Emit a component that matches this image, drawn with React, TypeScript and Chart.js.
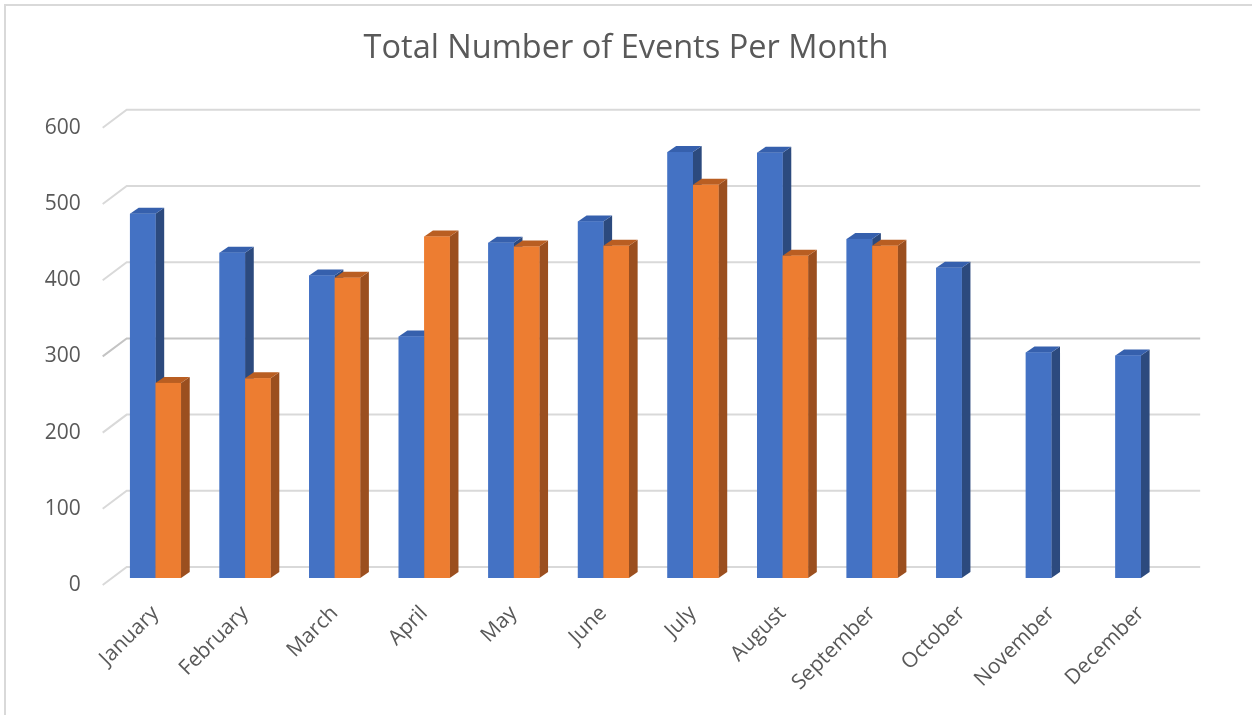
import React, { useEffect, useRef } from "react";
import { Chart, registerables } from "chart.js";

Chart.register(...registerables);

const months = [
  "January", "February", "March", "April", "May", "June",
  "July", "August", "September", "October", "November", "December",
];
const seriesBlue = [478, 427, 397, 317, 440, 468, 559, 558, 445, 407, 296, 292];
const seriesOrange = [256, 262, 394, 448, 435, 436, 516, 423, 436, null, null, null];
const yTicks = [0, 100, 200, 300, 400, 500, 600];
const titleText = "Total Number of Events Per Month";

const FONT = "'Open Sans', 'Noto Sans', sans-serif";
const TEXT = "#595959";
const GRID = "#d9d9d9";

const faces = [
  { front: "#4472c4", top: "#3660ad", side: "#2c4a7e" },
  { front: "#ed7d31", top: "#b95e22", side: "#9b4f1f" },
];

// depth offsets (oblique projection)
const BAR_DX = 8.7;
const BAR_DY = 6;

const pseudo3d = {
  id: "pseudo3d",
  beforeDraw(chart: any) {
    const ctx = chart.ctx;
    ctx.save();
    ctx.strokeStyle = GRID;
    ctx.lineWidth = 2;
    ctx.beginPath();
    ctx.moveTo(5, chart.height);
    ctx.lineTo(5, 5);
    ctx.lineTo(chart.width, 5);
    ctx.stroke();
    ctx.restore();
  },
  beforeDatasetsDraw(chart: any) {
    const ctx = chart.ctx;
    const { left, right } = chart.chartArea;
    const ys = chart.scales.y;
    ctx.save();
    ctx.lineWidth = 2;
    for (const v of yTicks) {
      const y = ys.getPixelForValue(v);
      ctx.strokeStyle = v === 300 ? "#c4c4c4" : GRID;
      ctx.beginPath();
      ctx.moveTo(left - 8, y + 7);
      ctx.lineTo(left + 16, y - 11);
      ctx.lineTo(right + 14.5, y - 11);
      ctx.stroke();
    }
    ctx.restore();
  },
  afterDatasetsDraw(chart: any) {
    const ctx = chart.ctx;
    ctx.save();
    const n = chart.data.labels.length;
    for (let i = 0; i < n; i++) {
      for (let d = 0; d < chart.data.datasets.length; d++) {
        const val = chart.data.datasets[d].data[i];
        if (val === null || val === undefined) continue;
        const el: any = chart.getDatasetMeta(d).data[i];
        if (!el) continue;
        const p = el.getProps(["x", "y", "base", "width"], true);
        const l = p.x - p.width / 2;
        const r = p.x + p.width / 2;
        const t = Math.min(p.y, p.base);
        const b = Math.max(p.y, p.base);
        const c = faces[d];
        ctx.fillStyle = c.side;
        ctx.beginPath();
        ctx.moveTo(r, t);
        ctx.lineTo(r + BAR_DX, t - BAR_DY);
        ctx.lineTo(r + BAR_DX, b - BAR_DY);
        ctx.lineTo(r, b);
        ctx.closePath();
        ctx.fill();
        ctx.fillStyle = c.top;
        ctx.beginPath();
        ctx.moveTo(l, t);
        ctx.lineTo(l + BAR_DX, t - BAR_DY);
        ctx.lineTo(r + BAR_DX, t - BAR_DY);
        ctx.lineTo(r, t);
        ctx.closePath();
        ctx.fill();
        ctx.fillStyle = c.front;
        ctx.fillRect(l, t, r - l, b - t);
      }
    }
    ctx.restore();
  },
};

export default function App() {
  const ref = useRef<HTMLCanvasElement | null>(null);
  useEffect(() => {
    if (!ref.current) return;
    const chart = new Chart(ref.current, {
      type: "bar",
      data: {
        labels: months,
        datasets: [
          { label: "Series 1", data: seriesBlue, backgroundColor: faces[0].front, borderWidth: 0, categoryPercentage: 0.57, barPercentage: 1 },
          { label: "Series 2", data: seriesOrange, backgroundColor: faces[1].front, borderWidth: 0, categoryPercentage: 0.57, barPercentage: 1 },
        ],
      },
      options: {
        responsive: false,
        animation: false,
        layout: { padding: 0 },
        plugins: {
          legend: { display: false },
          tooltip: { enabled: false },
          title: {
            display: true,
            text: titleText,
            color: TEXT,
            font: { family: FONT, size: 32.5, weight: "normal" as any },
            padding: { top: 29, bottom: 52.8 },
          },
        },
        scales: {
          x: {
            grid: { display: false, drawTicks: false },
            border: { display: false },
            ticks: {
              autoSkip: false,
              maxRotation: 45,
              minRotation: 45,
              color: TEXT,
              font: { family: FONT, size: 21 },
              padding: 23,
            },
            afterFit(s: any) { s.height = 137; },
          },
          y: {
            min: 0,
            max: 600,
            grid: { display: false, drawTicks: false },
            border: { display: false },
            ticks: {
              stepSize: 100,
              color: TEXT,
              font: { family: FONT, size: 21 },
              padding: 30,
              labelOffset: 7,
            },
            afterFit(s: any) { s.width = 110.7; },
          },
          y2: {
            position: "right",
            grid: { display: false, drawTicks: false },
            border: { display: false },
            ticks: { display: false },
            afterFit(s: any) { s.width = 66.3; },
          },
        },
      },
      plugins: [pseudo3d],
    });
    return () => chart.destroy();
  }, []);
  return (
    <div style={{ position: "absolute", left: 0, top: 0, width: 1252, height: 715, background: "#fff" }}>
      <canvas ref={ref} width={1252} height={715} style={{ display: "block" }} />
    </div>
  );
}
